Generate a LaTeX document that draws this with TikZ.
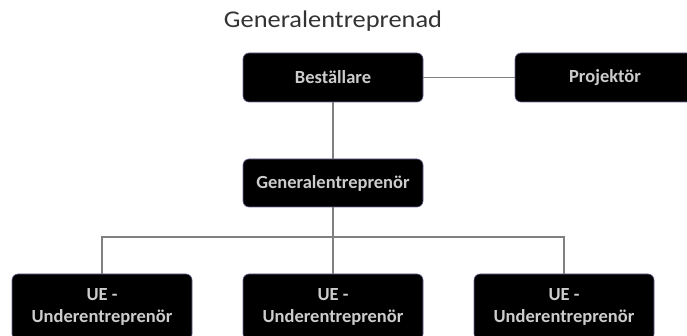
\documentclass[tikz,border=0pt]{standalone}
\usepackage{fontspec}
\setmainfont{Carlito}
\usetikzlibrary{calc}

\begin{document}
\begin{tikzpicture}
		[x=1pt,y=-1pt,
		box/.style={shape=rectangle,rounded corners=6pt,fill=black,
			draw=black!70!blue!60,line width=0.6pt,
			text=white!80!black,font=\bfseries\fontsize{18.5}{22}\selectfont,
			minimum width=180pt,minimum height=49pt,align=center,inner sep=2pt},
		link/.style={-,draw=black!50,line width=1.4pt}]
		\clip (0,0) rectangle (687,336);
		\fill[white] (0,0) rectangle (687,336);
		\node[anchor=base,text=black!80,xscale=1.1] (title) at (333,28)
			{\fontsize{24}{28}\selectfont Generalentreprenad};
		\node[box] (best) at (333,77.5) {Beställare};
		\node[box] (proj) at (605,77.5) {Projektör};
		\node[box,minimum height=48pt] (ge) at (333,183) {Generalentreprenör};
		\node[box,minimum height=66pt] (ue1) at (102,307) {UE -\\Underentreprenör};
		\node[box,minimum height=66pt] (ue2) at (333,307) {UE -\\Underentreprenör};
		\node[box,minimum height=66pt] (ue3) at (564,307) {UE -\\Underentreprenör};
		\coordinate (bus) at (333,237);
		\path
		\foreach \startNode/\endNode in {best/proj, best/ge, ge/ue2}
		{
			(\startNode) edge[link] (\endNode)
		};
		\draw[link] (ue1.north) |- (bus) -| (ue3.north);
		\end{tikzpicture}
\end{document}
